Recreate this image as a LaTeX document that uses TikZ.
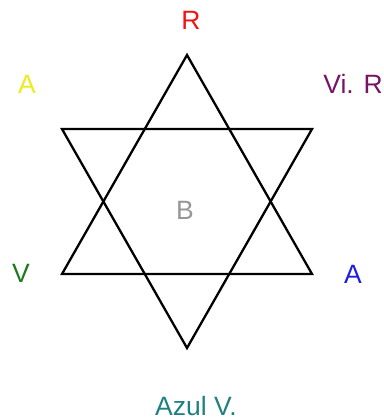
\documentclass[tikz,border=0pt]{standalone}
\usepackage{fontspec}
\setmainfont{Liberation Sans}
\begin{document}
\begin{tikzpicture}[x=1pt,y=-1pt,
  lbl/.style={font=\fontsize{26.5}{30}\selectfont, inner sep=0pt, anchor=center},
  edge/.style={line width=2.3pt, line join=miter, black}]
\useasboundingbox (0,0) rectangle (383,420);
\definecolor{cR}{RGB}{240,20,20}
\definecolor{cY}{RGB}{235,235,30}
\definecolor{cP}{RGB}{120,20,100}
\definecolor{cG}{RGB}{30,120,30}
\definecolor{cB}{RGB}{30,30,220}
\definecolor{cT}{RGB}{30,128,128}
\definecolor{cGr}{RGB}{150,150,150}
\coordinate (t) at (187,55);
\coordinate (bl) at (62,274);
\coordinate (br) at (312,274);
\coordinate (tl) at (62,129);
\coordinate (tr) at (312,129);
\coordinate (b) at (187,348);
\draw[edge] (t) -- (bl) -- (br) -- cycle;
\draw[edge] (tl) -- (tr) -- (b) -- cycle;
\node[lbl, text=cR] (r) at (191,20) {R};
\node[lbl, text=cY] (ay) at (27,84) {A};
\node[lbl, text=cP] (vr) at (353,84) {Vi. R};
\node[lbl, text=cGr] (bb) at (185,210) {B};
\node[lbl, text=cG] (v) at (21,273) {V};
\node[lbl, text=cB] (ab) at (353,274) {A};
\node[lbl, text=cT] (az) at (196,406) {Azul V.};
\end{tikzpicture}
\end{document}
